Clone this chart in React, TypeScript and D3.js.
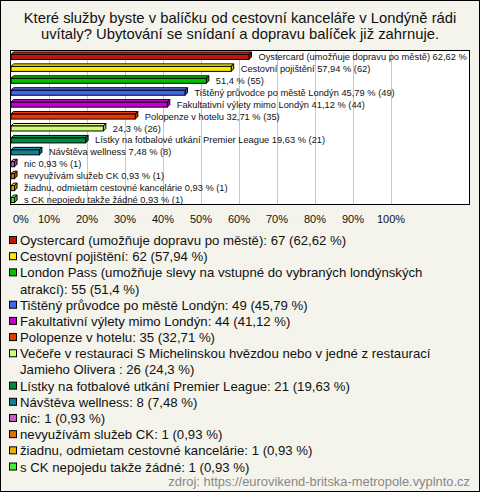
import React from "react";
import * as d3 from "d3";

const TITLE_LINES = [
  "Které služby byste v balíčku od cestovní kanceláře v Londýně rádi",
  "uvítaly? Ubytování se snídaní a dopravu balíček již zahrnuje.",
];

const categories = [
  "Oystercard (umožňuje dopravu po městě)",
  "Cestovní pojištění",
  "London Pass (umožňuje slevy na vstupné do vybraných londýnských atrakcí)",
  "Tištěný průvodce po městě Londýn",
  "Fakultativní výlety mimo Londýn",
  "Polopenze v hotelu",
  "Večeře v restauraci S Michelinskou hvězdou nebo v jedné z restaurací Jamieho Olivera ",
  "Lístky na fotbalové utkání Premier League",
  "Návštěva wellness",
  "nic",
  "nevyužívám služeb CK",
  "žiadnu, odmietam cestovné kancelárie",
  "s CK nepojedu takže žádné",
];

// names shown next to bars ("" = only value shown)
const barNames = [
  "Oystercard (umožňuje dopravu po městě)",
  "Cestovní pojištění",
  "",
  "Tištěný průvodce po městě Londýn",
  "Fakultativní výlety mimo Londýn",
  "Polopenze v hotelu",
  "",
  "Lístky na fotbalové utkání Premier League",
  "Návštěva wellness",
  "nic",
  "nevyužívám služeb CK",
  "žiadnu, odmietam cestovné kancelárie",
  "s CK nepojedu takže žádné",
];

const counts = [67, 62, 55, 49, 44, 35, 26, 21, 8, 1, 1, 1, 1];
const percents = [62.62, 57.94, 51.4, 45.79, 41.12, 32.71, 24.3, 19.63, 7.48, 0.93, 0.93, 0.93, 0.93];
const percentLabels = ["62,62", "57,94", "51,4", "45,79", "41,12", "32,71", "24,3", "19,63", "7,48", "0,93", "0,93", "0,93", "0,93"];

const colors = [
  "#c01800", "#ffe800", "#00c000", "#4466ee", "#c000d0", "#e83800", "#ccff77",
  "#008844", "#118090", "#c060c0", "#e07000", "#e8b000", "#44ee33",
];

// legend lines (wrapped like the reference)
const legendLines: string[][] = [
  ["Oystercard (umožňuje dopravu po městě): 67 (62,62 %)"],
  ["Cestovní pojištění: 62 (57,94 %)"],
  ["London Pass (umožňuje slevy na vstupné do vybraných londýnských", "atrakcí): 55 (51,4 %)"],
  ["Tištěný průvodce po městě Londýn: 49 (45,79 %)"],
  ["Fakultativní výlety mimo Londýn: 44 (41,12 %)"],
  ["Polopenze v hotelu: 35 (32,71 %)"],
  ["Večeře v restauraci S Michelinskou hvězdou nebo v jedné z restaurací", "Jamieho Olivera : 26 (24,3 %)"],
  ["Lístky na fotbalové utkání Premier League: 21 (19,63 %)"],
  ["Návštěva wellness: 8 (7,48 %)"],
  ["nic: 1 (0,93 %)"],
  ["nevyužívám služeb CK: 1 (0,93 %)"],
  ["žiadnu, odmietam cestovné kancelárie: 1 (0,93 %)"],
  ["s CK nepojedu takže žádné: 1 (0,93 %)"],
];

const ticks = [0, 10, 20, 30, 40, 50, 60, 70, 80, 90, 100];
const SOURCE = "zdroj: https://eurovikend-britska-metropole.vyplnto.cz";

const W = 480;
const H = 492;
const FONT = "'Liberation Sans', Arial, sans-serif";

export default function App() {
  const plot = { left: 10, right: 470, top: 50, bottom: 205 };
  const x = d3.scaleLinear().domain([0, 100]).range([11, 391]);
  const y = d3.scaleBand<number>().domain(d3.range(categories.length)).range([plot.top, plot.bottom]);
  const depth = 2.5;
  const barH = 5;

  let lineIdx = 0;
  const legendTop = 245;
  const lineStep = 16.18;

  return (
    <svg width={W} height={H} style={{ position: "absolute", left: 0, top: 0, display: "block" }}>
      <defs>
        <clipPath id="plotClip">
          <rect x={plot.left} y={plot.top} width={plot.right - plot.left} height={plot.bottom - plot.top} />
        </clipPath>
      </defs>
      <rect x={0.5} y={0.5} width={W - 1} height={H - 1} fill="#f4f4ec" stroke="#000" />
      {TITLE_LINES.map((t, i) => (
        <text key={i} x={W / 2} y={23 + i * 16} textAnchor="middle" fontFamily={FONT} fontSize={14.8} fill="#111">
          {t}
        </text>
      ))}
      <rect x={plot.left + 0.5} y={plot.top + 0.5} width={plot.right - plot.left - 1} height={plot.bottom - plot.top - 1} fill="#fff" stroke="none" />
      {ticks.slice(1).map((t) => (
        <line key={t} x1={Math.round(x(t)) + 0.5} x2={Math.round(x(t)) + 0.5} y1={plot.top} y2={plot.bottom} stroke="#c8c8c8" strokeWidth={1} />
      ))}
      <g clipPath="url(#plotClip)">
        {percents.map((p, i) => {
          const x0 = x(0);
          const x1 = x(p);
          const cy = (y(i) as number) + y.bandwidth() / 2 + 0.5;
          const yt = cy - barH / 2 + 0.5;
          const yb = yt + barH;
          const c = colors[i];
          const light = d3.color(c)!.brighter(0.4).formatHex();
          const name = barNames[i];
          const label = (name ? name + " " : "") + percentLabels[i] + " % (" + counts[i] + ")";
          return (
            <g key={i}>
              <polygon
                points={`${x0},${yt} ${x0 + depth},${yt - depth} ${x1 + depth},${yt - depth} ${x1},${yt}`}
                fill={light}
                stroke="#000"
                strokeWidth={1}
                strokeLinejoin="round"
              />
              <polygon
                points={`${x1},${yt} ${x1 + depth},${yt - depth} ${x1 + depth},${yb - depth} ${x1},${yb}`}
                fill={d3.color(c)!.darker(0.6).formatHex()}
                stroke="#000"
                strokeWidth={1}
                strokeLinejoin="round"
              />
              <rect x={x0} y={yt} width={x1 - x0} height={barH} fill={c} stroke="#000" strokeWidth={1} />
              <text x={x1 + depth + 7} y={cy + 3.5} fontFamily={FONT} fontSize={9.3} fill="#111">
                {label}
              </text>
            </g>
          );
        })}
      </g>
      <rect x={plot.left + 0.5} y={plot.top + 0.5} width={plot.right - plot.left - 1} height={plot.bottom - plot.top - 1} fill="none" stroke="#000" />
      {ticks.map((t) => (
        <text
          key={t}
          x={t === 0 ? x(t) + 2 : x(t)}
          y={223}
          textAnchor={t === 0 ? "start" : "middle"}
          fontFamily={FONT}
          fontSize={11}
          fill="#111"
        >
          {t + "%"}
        </text>
      ))}
      {legendLines.map((lines, i) => {
        const start = lineIdx;
        lineIdx += lines.length;
        const by = legendTop + start * lineStep;
        return (
          <g key={i}>
            <rect x={9.5} y={by - 8.5} width={7} height={7} fill={colors[i]} stroke="#000" strokeWidth={1} />
            {lines.map((l, j) => (
              <text key={j} x={20} y={by + j * lineStep} fontFamily={FONT} fontSize={13.2} fill="#111">
                {l}
              </text>
            ))}
          </g>
        );
      })}
      <text x={470} y={486} textAnchor="end" fontFamily={FONT} fontSize={12.9} fill="#888">
        {SOURCE}
      </text>
    </svg>
  );
}
